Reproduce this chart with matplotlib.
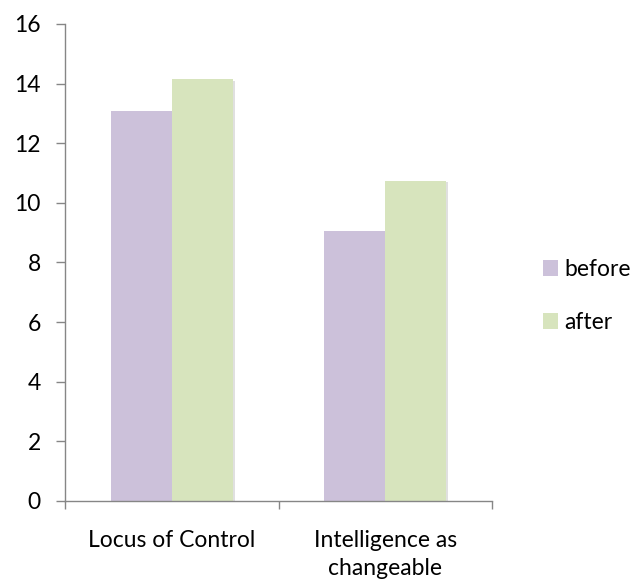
import matplotlib
matplotlib.use("Agg")
import matplotlib.pyplot as plt
import matplotlib.patheffects as pe
from matplotlib.patches import Patch
import numpy as np

categories = ["Locus of Control", "Intelligence as\nchangeable"]
series_names = ["before", "after"]
before = [13.08, 9.06]
after = [14.15, 10.74]
yticks = [0, 2, 4, 6, 8, 10, 12, 14, 16]

COLORS = {"before": "#CCC1DA", "after": "#D7E4BD"}
AXIS_GRAY = "#868686"
FS = 16.5

plt.rcParams["font.family"] = ["Lato", "DejaVu Sans"]

fig = plt.figure(figsize=(6.39, 5.85), dpi=100)
ax = fig.add_axes([0.1017, 0.1436, 0.6683, 0.8154])

x = np.arange(len(categories))
w = 1 / 3.5
shadow = [pe.SimplePatchShadow(offset=(1.5, -1), shadow_rgbFace="#000000", alpha=0.12),
          pe.Normal()]
for i, (name, vals) in enumerate(zip(series_names, [before, after])):
    bars = ax.bar(x + (i - 0.5) * w, vals, w, color=COLORS[name], linewidth=0)
    for b in bars:
        b.set_path_effects(shadow)

ax.set_xlim(-0.5, len(categories) - 0.5)
ax.set_ylim(0, 16)
ax.set_yticks(yticks)
ax.set_yticklabels([str(t) for t in yticks], fontsize=FS)

# category ticks sit on the group boundaries, labels in the middle
ax.set_xticks(np.arange(len(categories) + 1) - 0.5)
ax.set_xticklabels([])
ax.set_xticks(x, minor=True)
ax.set_xticklabels(categories, minor=True, fontsize=FS, linespacing=1.4)
ax.tick_params(axis="x", which="minor", length=0, pad=21)
ax.tick_params(axis="x", which="major", length=6, width=1, color=AXIS_GRAY,
               direction="out")
ax.tick_params(axis="y", length=6.5, width=1, color=AXIS_GRAY, pad=11,
               direction="out")

for s in ["top", "right"]:
    ax.spines[s].set_visible(False)
for s in ["left", "bottom"]:
    ax.spines[s].set_color(AXIS_GRAY)
    ax.spines[s].set_linewidth(1)

handles = [Patch(facecolor=COLORS[n], edgecolor="none", label=n) for n in series_names]
fig.legend(handles=handles, loc="center left", bbox_to_anchor=(0.818, 0.494),
           frameon=False, fontsize=FS, handlelength=0.65, handleheight=0.65,
           handletextpad=0.25, labelspacing=1.4)

fig.savefig("out.png", dpi=100)
